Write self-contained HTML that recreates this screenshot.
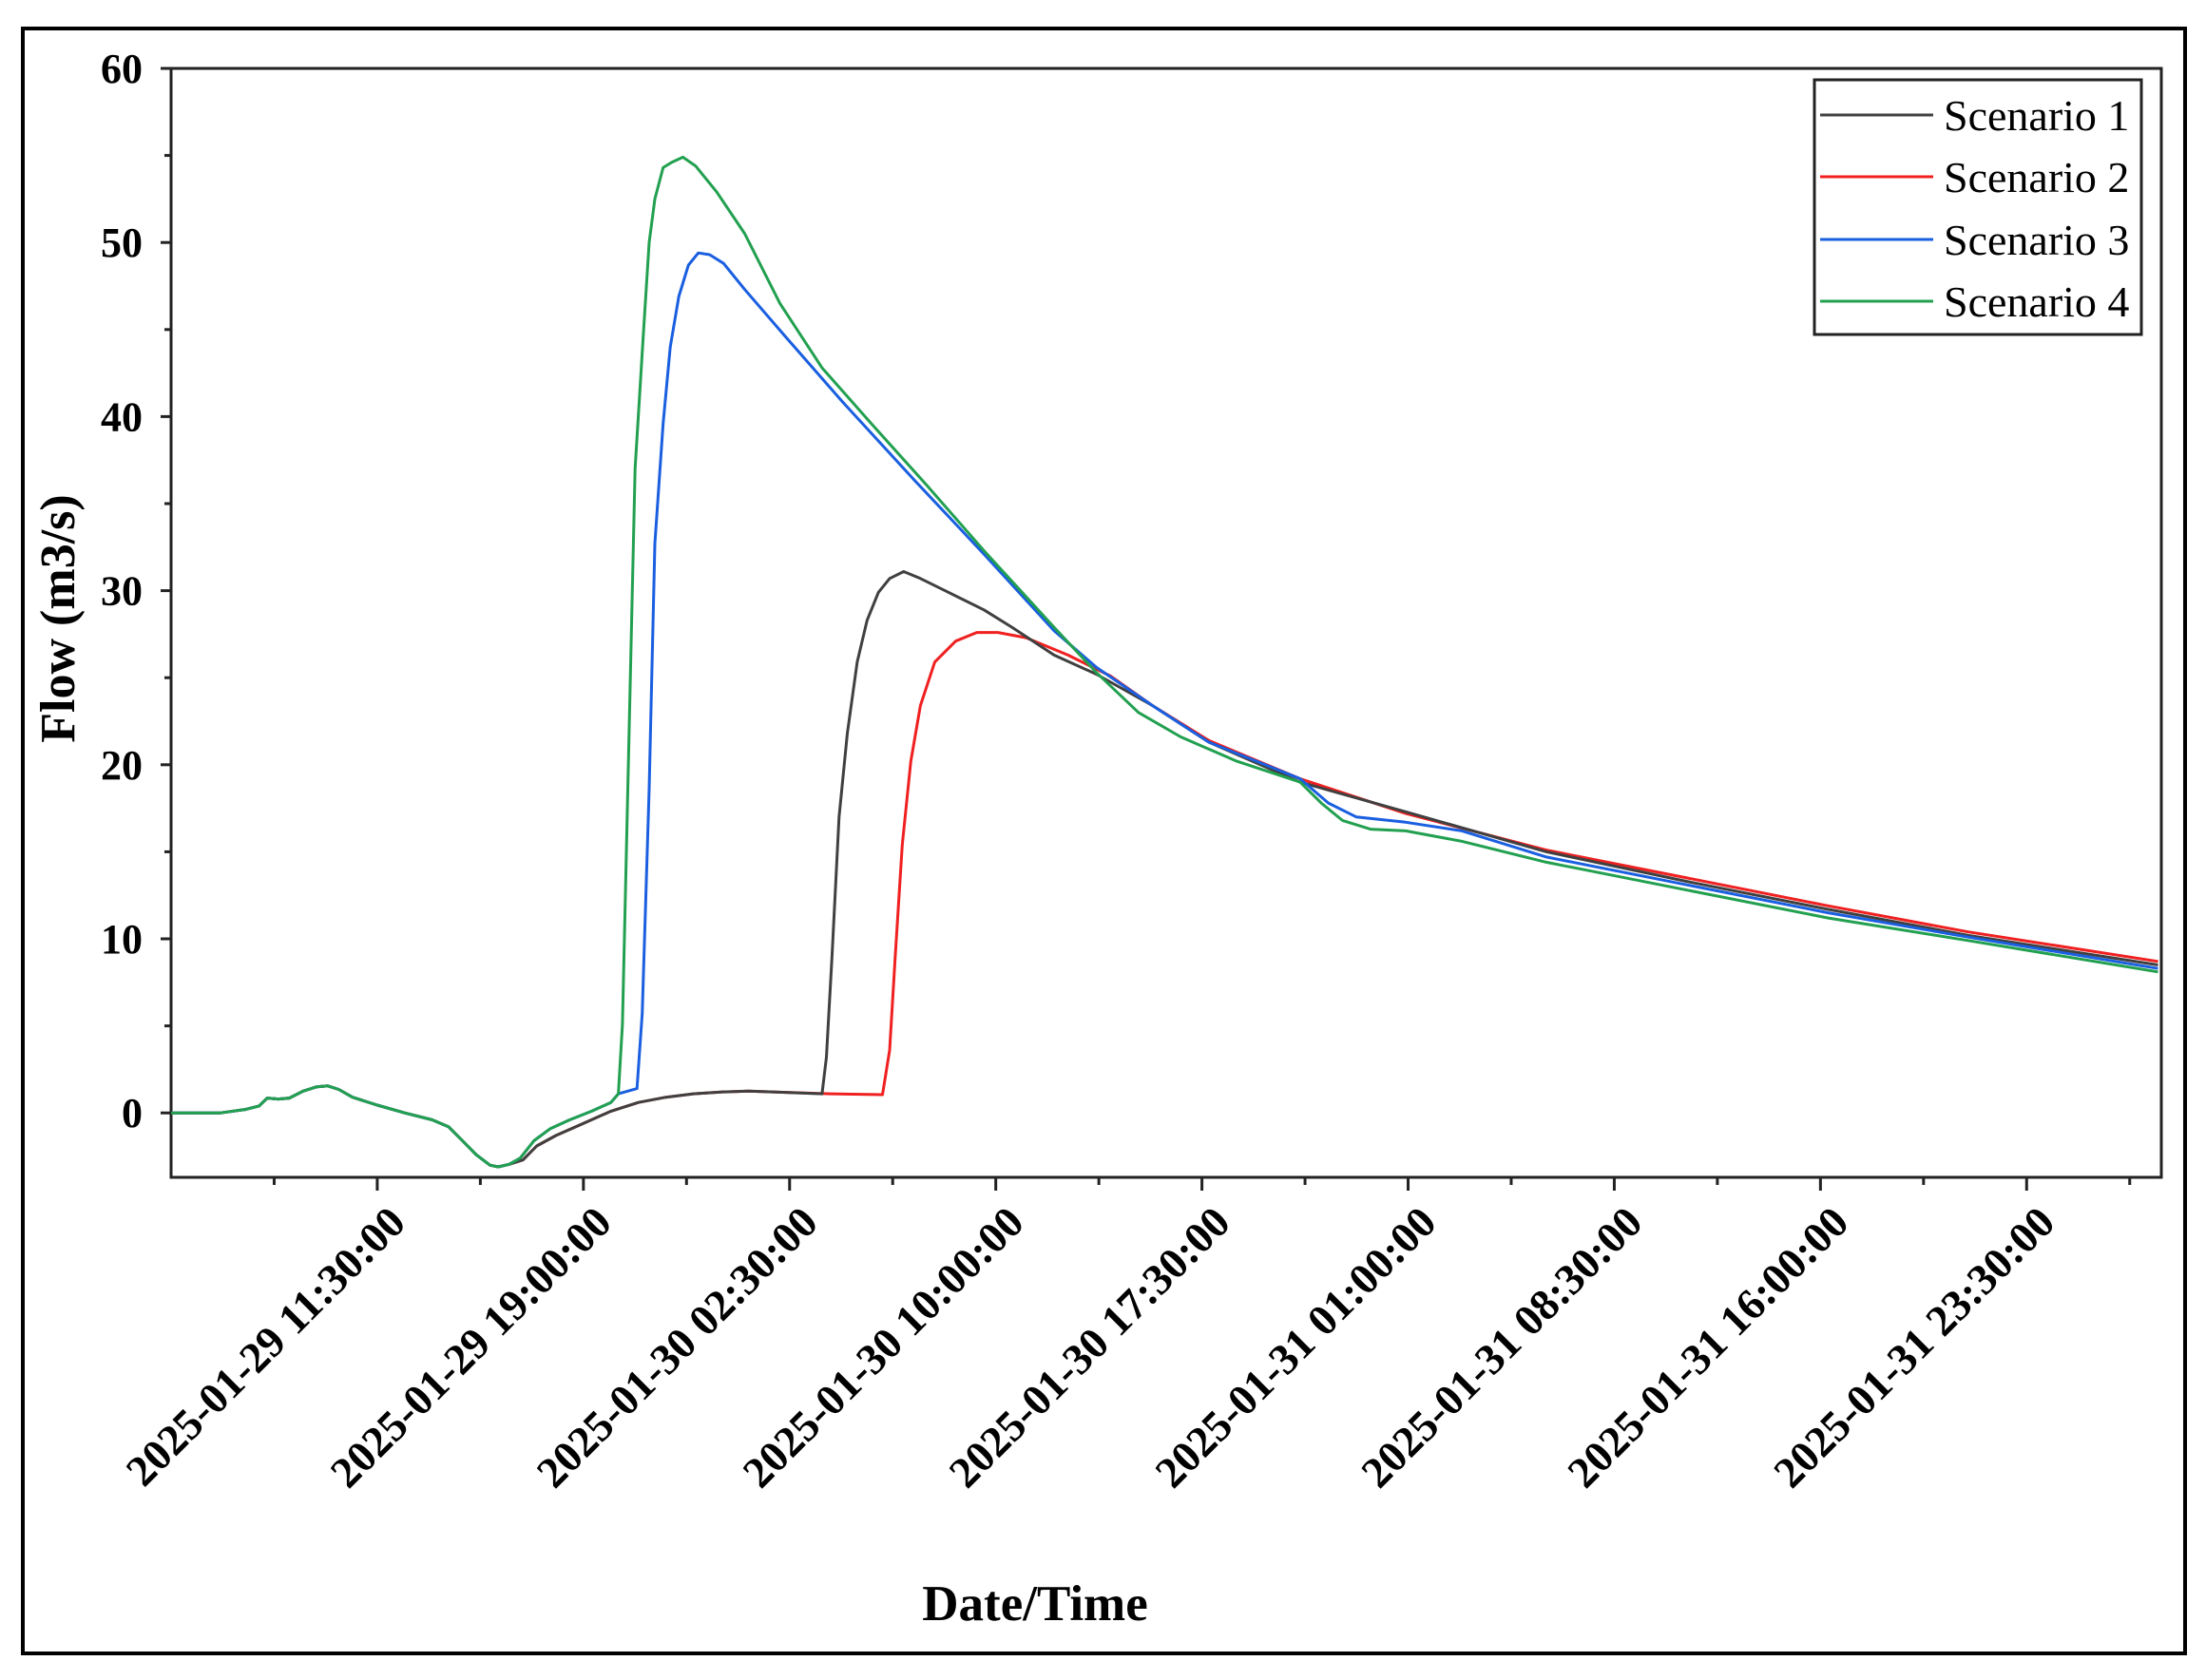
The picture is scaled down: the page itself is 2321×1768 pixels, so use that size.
<!DOCTYPE html>
<html><head><meta charset="utf-8"><style>
html,body{margin:0;padding:0;background:#fff;}
svg{display:block;}
text{font-family:"Liberation Serif",serif;}
</style></head><body>
<svg id="chart" width="2321" height="1768" viewBox="0 0 2321 1768" xmlns="http://www.w3.org/2000/svg">
<rect x="24" y="30" width="2275" height="1710" fill="#fff" stroke="#000" stroke-width="4"/>
<g id="axes"></g>
<g id="series"></g>
<text x="0" y="0" transform="translate(78,651) rotate(-90)" text-anchor="middle" font-size="52" font-weight="bold">Flow (m3/s)</text>
<text x="1089" y="1705" text-anchor="middle" font-size="53" font-weight="bold">Date/Time</text>
<g>
<rect x="1909" y="84" width="344" height="268" fill="#fff" stroke="#222" stroke-width="3"/>
<g><line x1="1915" y1="121" x2="2034" y2="121" stroke="#404040" stroke-width="3"/><text x="2045" y="137" font-size="46">Scenario 1</text></g>
<g><line x1="1915" y1="186" x2="2034" y2="186" stroke="#f02020" stroke-width="3"/><text x="2045" y="202" font-size="46">Scenario 2</text></g>
<g><line x1="1915" y1="252" x2="2034" y2="252" stroke="#1a5fe0" stroke-width="3"/><text x="2045" y="268" font-size="46">Scenario 3</text></g>
<g><line x1="1915" y1="317" x2="2034" y2="317" stroke="#22a050" stroke-width="3"/><text x="2045" y="333" font-size="46">Scenario 4</text></g>
</g>
</svg>
<script>
// hours since 2025-01-29 04:00
const xTickHours=[7.5,15,22.5,30,37.5,45,52.5,60,67.5];
const xTickLabels=["2025-01-29 11:30:00","2025-01-29 19:00:00","2025-01-30 02:30:00","2025-01-30 10:00:00","2025-01-30 17:30:00","2025-01-31 01:00:00","2025-01-31 08:30:00","2025-01-31 16:00:00","2025-01-31 23:30:00"];
const yTicks=[0,10,20,30,40,50,60];
const common=[[0,0],[1.8,0],[2.7,0.2],[3.2,0.4],[3.5,0.85],[3.9,0.8],[4.3,0.85],[4.8,1.25],[5.3,1.5],[5.7,1.55],[6.1,1.35],[6.6,0.9],[7.5,0.45],[8.5,0],[9.5,-0.4],[10.1,-0.8],[10.6,-1.6],[11.1,-2.4],[11.6,-3.0],[11.9,-3.1],[12.3,-2.95]];
const s4Values=[[12.7,-2.6],[13.2,-1.6],[13.8,-0.9],[14.5,-0.4],[15.3,0.1],[16,0.6],[16.27,1.1],[16.42,5.1],[16.88,37],[17.19,45],[17.39,50],[17.6,52.5],[17.9,54.3],[18.21,54.6],[18.62,54.9],[19.08,54.4],[19.85,52.9],[20.87,50.5],[22.15,46.5],[23.68,42.8],[25.47,39.6],[27.52,36],[29.57,32.3],[32.12,27.9],[33.66,25.3],[35.19,23],[36.73,21.6],[38.77,20.2],[41.07,19],[41.84,17.8],[42.61,16.8],[43.63,16.3],[44.91,16.2],[46.96,15.6],[50.03,14.4],[55.14,12.8],[60.26,11.2],[65.37,9.9],[72.28,8.1]];
const s3Values=[[12.7,-2.6],[13.2,-1.6],[13.8,-0.9],[14.5,-0.4],[15.3,0.1],[16,0.6],[16.27,1.1],[16.95,1.4],[17.14,5.7],[17.39,18.6],[17.6,32.7],[17.9,39.6],[18.16,44],[18.47,46.9],[18.82,48.7],[19.18,49.4],[19.59,49.3],[20.1,48.8],[20.87,47.3],[22.4,44.5],[24.45,40.8],[27.01,36.4],[29.57,32.1],[32.12,27.7],[33.66,25.6],[35.7,23.4],[37.75,21.3],[41.07,19.2],[42.1,17.8],[43.12,17],[44.91,16.7],[46.96,16.2],[50.03,14.7],[55.14,13.1],[60.26,11.5],[65.37,10.1],[72.28,8.3]];
const s2Values=[[12.8,-2.7],[13.3,-1.9],[14,-1.3],[15,-0.6],[16,0.1],[17,0.6],[18,0.9],[19,1.1],[20,1.2],[21,1.25],[22,1.2],[24,1.1],[25.88,1.05],[26.14,3.6],[26.34,8.9],[26.6,15.4],[26.91,20.2],[27.26,23.4],[27.78,25.9],[28.54,27.1],[29.31,27.6],[30.08,27.6],[31.1,27.3],[32.63,26.3],[34.17,25.1],[35.7,23.4],[37.75,21.4],[41.07,19.2],[44.91,17.2],[50.03,15.1],[55.14,13.5],[60.26,11.9],[65.37,10.4],[72.28,8.7]];
const s1Values=[[12.8,-2.7],[13.3,-1.9],[14,-1.3],[15,-0.6],[16,0.1],[17,0.6],[18,0.9],[19,1.1],[20,1.2],[21,1.25],[22,1.2],[23.68,1.1],[23.84,3.2],[24.04,8.9],[24.3,17],[24.6,21.8],[24.96,25.9],[25.32,28.3],[25.73,29.9],[26.14,30.7],[26.65,31.1],[27.26,30.7],[28.03,30.1],[29.57,28.9],[30.59,27.9],[32.12,26.3],[33.66,25.2],[35.7,23.4],[37.75,21.3],[41.07,19.0],[44.91,17.3],[50.03,15.0],[55.14,13.3],[60.26,11.7],[65.37,10.2],[72.28,8.5]];

const NS="http://www.w3.org/2000/svg";
const L=180,R=2274,T=72,B=1239,XMAX=72.4,YMIN=-3.7,YMAX=60;
const xs=h=>L+(h/XMAX)*(R-L);
const ys=v=>T+(YMAX-v)/(YMAX-YMIN)*(B-T);
const axes=document.getElementById('axes');
function mk(tag,attrs,parent){const e=document.createElementNS(NS,tag);for(const k in attrs)e.setAttribute(k,attrs[k]);parent.appendChild(e);return e;}
const frame=mk('rect',{x:L,y:T,width:R-L,height:B-T,fill:'none',stroke:'#222','stroke-width':3},axes);


yTicks.forEach(v=>{
  const t=mk('line',{x1:L-11,x2:L,y1:ys(v),y2:ys(v),stroke:'#222','stroke-width':3},axes);
  
  
  if(v<60){const m=mk('line',{x1:L-7,x2:L,y1:ys(v+5),y2:ys(v+5),stroke:'#222','stroke-width':3},axes);
  
  }
  const lb=mk('text',{x:L-30,y:ys(v)+15,'text-anchor':'end','font-size':44,'font-weight':'bold'},axes);
  lb.textContent=v;
  
  
});
xTickHours.forEach((h,i)=>{
  const t=mk('line',{x1:xs(h),x2:xs(h),y1:B,y2:B+14,stroke:'#222','stroke-width':3},axes);
  
  
  const mh=h-3.75;
  const m=mk('line',{x1:xs(mh),x2:xs(mh),y1:B,y2:B+8,stroke:'#222','stroke-width':3},axes);
  
  
  const x=xs(h)+32,y=B+50;
  const lb=mk('text',{x:x,y:y,'text-anchor':'end','font-size':46,'font-weight':'bold',transform:`rotate(-45 ${x} ${y})`},axes);
  lb.textContent=xTickLabels[i];
  
  
});
{const mh=xTickHours[xTickHours.length-1]+3.75;
const m=mk('line',{x1:xs(mh),x2:xs(mh),y1:B,y2:B+8,stroke:'#222','stroke-width':3},axes);

}
const series=document.getElementById('series');
const defs=[['scenario-2-line',s2Values,'#f02020'],['scenario-1-line',s1Values,'#404040'],['scenario-3-line',s3Values,'#1a5fe0'],['scenario-4-line',s4Values,'#22a050']];
defs.forEach(([name,vals,col])=>{
  const pts=common.concat(vals).map(p=>xs(p[0]).toFixed(1)+','+ys(p[1]).toFixed(1)).join(' ');
  const pl=mk('polyline',{points:pts,fill:'none',stroke:col,'stroke-width':3,'stroke-linejoin':'round'},series);
  
  
});
</script>
</body></html>
